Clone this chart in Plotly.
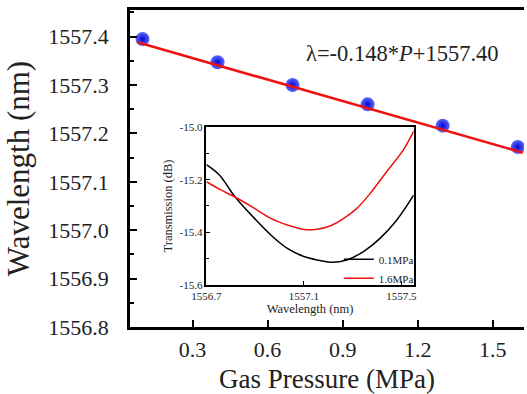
import plotly.graph_objects as go

# Main data: gas pressure (MPa) vs. dip wavelength (nm)
pressure = [0.1, 0.4, 0.7, 1.0, 1.3, 1.6]
wavelength = [1557.395, 1557.347, 1557.300, 1557.260, 1557.216, 1557.172]

# Linear fit printed on chart
fit_slope = -0.148
fit_intercept = 1557.40
fit_p = [0.08, 1.62]
fit_w = [fit_slope * p + fit_intercept for p in fit_p]

# Inset spectra
spec_wl_01 = [1556.700, 1556.754, 1556.802, 1556.829, 1556.897, 1556.964, 1557.032,
              1557.100, 1557.154, 1557.215, 1557.276, 1557.344, 1557.412, 1557.480, 1557.550]
spec_tr_01 = [-15.143, -15.183, -15.246, -15.278, -15.347, -15.410, -15.461,
              -15.492, -15.505, -15.514, -15.505, -15.473, -15.423, -15.354, -15.259]
spec_wl_16 = [1556.700, 1556.761, 1556.815, 1556.897, 1556.964, 1557.032, 1557.100,
              1557.154, 1557.209, 1557.263, 1557.317, 1557.371, 1557.439, 1557.507, 1557.550]
spec_tr_16 = [-15.208, -15.240, -15.265, -15.309, -15.347, -15.372, -15.389,
              -15.388, -15.375, -15.347, -15.309, -15.253, -15.170, -15.088, -15.016]

main_xticks = [0.3, 0.6, 0.9, 1.2, 1.5]
main_yticks = [1556.8, 1556.9, 1557.0, 1557.1, 1557.2, 1557.3, 1557.4]
inset_xticks = [1556.7, 1557.1, 1557.5]
inset_yticks = [-15.6, -15.4, -15.2, -15.0]

FONT = "Liberation Serif, Times New Roman, serif"
TXT = "#222"


def f(size):
    return dict(family=FONT, size=size, color=TXT)


fig = go.Figure()
fig.add_trace(go.Scatter(
    x=pressure, y=wavelength, mode="markers", showlegend=False,
    marker=dict(size=14, color="#5c68ff",
                gradient=dict(type="radial", color="#0808d0"),
                line=dict(width=0)),
    xaxis="x", yaxis="y"))
fig.add_trace(go.Scatter(
    x=fit_p, y=fit_w, mode="lines", showlegend=False,
    line=dict(color="#ee1111", width=2.6), xaxis="x", yaxis="y"))

fig.add_trace(go.Scatter(
    x=spec_wl_01, y=spec_tr_01, mode="lines", name="0.1MPa",
    line=dict(color="black", width=1.5, shape="spline"), xaxis="x2", yaxis="y2"))
fig.add_trace(go.Scatter(
    x=spec_wl_16, y=spec_tr_16, mode="lines", name="1.6MPa",
    line=dict(color="#ee1111", width=1.5, shape="spline"), xaxis="x2", yaxis="y2"))

fig.update_layout(
    width=527, height=394,
    margin=dict(l=130, r=0, t=10, b=67),
    paper_bgcolor="white", plot_bgcolor="white",
    font=f(12),
    xaxis=dict(domain=[0, 1], range=[0.05, 1.625], tickvals=main_xticks,
               ticktext=[f"{v:.1f}" for v in main_xticks],
               ticks="inside", ticklen=7, tickwidth=2, tickcolor="black",
               showline=True, linecolor="black", linewidth=2.5, mirror=True,
               showgrid=False, zeroline=False, tickfont=f(22),
               ticklabelstandoff=1,
               title=dict(text="Gas Pressure (MPa)", font=f(27), standoff=9)),
    yaxis=dict(domain=[0, 1], range=[1556.8, 1557.455], tickvals=main_yticks,
               ticktext=[f"{v:.1f}" for v in main_yticks],
               ticks="inside", ticklen=7, tickwidth=2, tickcolor="black",
               minor=dict(dtick=0.05, tick0=1556.8, ticks="inside", ticklen=4,
                          tickwidth=2, tickcolor="black"),
               showline=True, linecolor="black", linewidth=2.5, mirror=False,
               showgrid=False, zeroline=False, tickfont=f(22),
               ticklabelstandoff=14,
               title=dict(text="Wavelength (nm)", font=f(31), standoff=10)),
    xaxis2=dict(domain=[0.194, 0.720], anchor="y2", range=[1556.7, 1557.55],
                tickvals=inset_xticks, ticktext=[f"{v:.1f}" for v in inset_xticks],
                ticks="inside", ticklen=4, tickwidth=1.2, tickcolor="black",
                showline=True, linecolor="black", linewidth=1.5, mirror=True,
                showgrid=False, zeroline=False, tickfont=f(11),
                title=dict(text="Wavelength (nm)", font=f(12.5), standoff=2)),
    yaxis2=dict(domain=[0.1325, 0.631], anchor="x2", range=[-15.6, -15.0],
                tickvals=inset_yticks, ticktext=[f"{v:.1f}" for v in inset_yticks],
                ticks="inside", ticklen=4, tickwidth=1.2, tickcolor="black",
                minor=dict(dtick=0.1, tick0=-15.6, ticks="inside", ticklen=3,
                           tickwidth=1.2, tickcolor="black"),
                showline=True, linecolor="black", linewidth=1.5, mirror=True,
                showgrid=False, zeroline=False, tickfont=f(11),
                title=dict(text="Transmission (dB)", font=f(12.5), standoff=4)),
    legend=dict(x=0.733, y=0.108, xanchor="right", yanchor="bottom",
                bgcolor="rgba(0,0,0,0)", font=f(11),
                itemwidth=30, tracegroupgap=0, borderwidth=0),
    annotations=[dict(text="λ=-0.148*<i>P</i>+1557.40", xref="paper", yref="paper",
                      x=0.691, y=0.864, xanchor="center", yanchor="middle",
                      showarrow=False, font=f(22.5))],
)

fig.write_html("out.html")
